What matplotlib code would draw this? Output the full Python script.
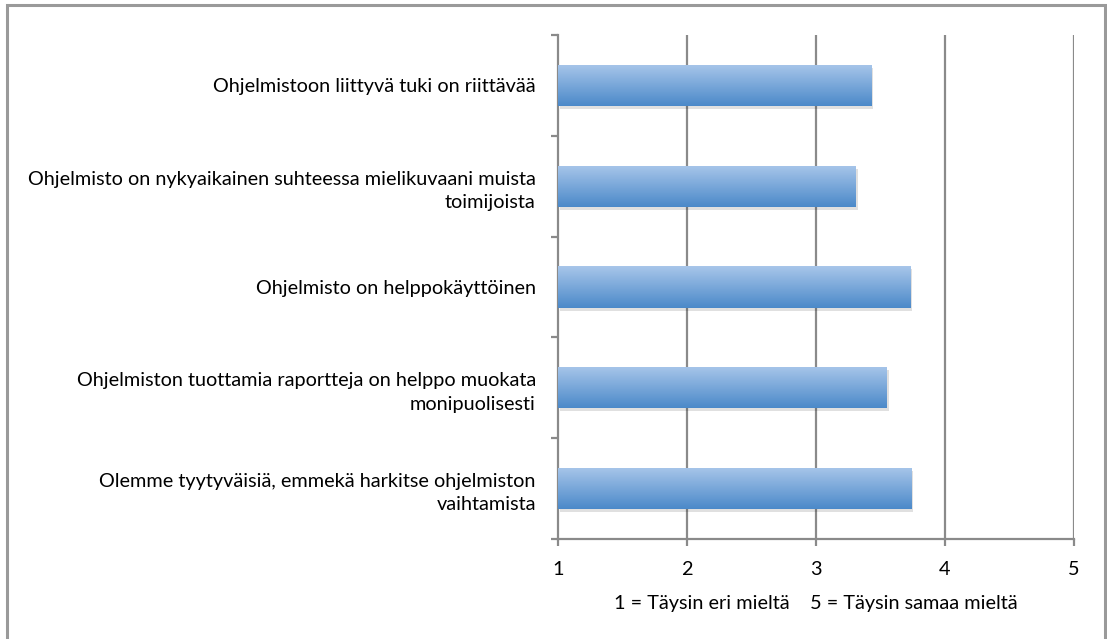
import numpy as np
import matplotlib.pyplot as plt
from matplotlib.patches import Rectangle
from matplotlib.colors import LinearSegmentedColormap
from matplotlib import transforms

plt.rcParams['font.family'] = ['Lato', 'DejaVu Sans']

# statements, top to bottom
labels = [
    "Ohjelmistoon liittyvä tuki on riittävää",
    "Ohjelmisto on nykyaikainen suhteessa mielikuvaani muista\ntoimijoista",
    "Ohjelmisto on helppokäyttöinen",
    "Ohjelmiston tuottamia raportteja on helppo muokata\nmonipuolisesti",
    "Olemme tyytyväisiä, emmekä harkitse ohjelmiston\nvaihtamista",
]
scores = [3.43, 3.31, 3.73, 3.55, 3.74]
x_ticks = [1, 2, 3, 4, 5]
x_label = "1 = Täysin eri mieltä    5 = Täysin samaa mieltä"

W, H = 1107, 639
fig = plt.figure(figsize=(W / 100, H / 100), dpi=100)
ax = fig.add_axes([558 / W, 1 - 539 / H, (1074 - 558) / W, (539 - 35) / H])

# outer frame
fig.patches.append(Rectangle((7 / W, -0.05), (1105 - 7) / W, 1 - 5 / H + 0.05,
                             transform=fig.transFigure, fill=False,
                             edgecolor='#9a9a9a', linewidth=2.2, zorder=0))

n = len(labels)
ypos = np.arange(n)[::-1]
bar_h = 0.41

# vertical grid
for xv in x_ticks[1:]:
    ax.axvline(xv, color='#8a8a8a', linewidth=1.6, zorder=1)

grad = np.linspace(0, 1, 256).reshape(-1, 1)
cmap = LinearSegmentedColormap.from_list('g', ['#a8c6ea', '#4b89c9'])

shadow_tr = transforms.offset_copy(ax.transData, fig=fig, x=2, y=-3, units='dots')
for y, v in zip(ypos, scores):
    sh = Rectangle((1, y - bar_h / 2), v - 1, bar_h, transform=shadow_tr,
                   facecolor='#000000', alpha=0.12, edgecolor='none', zorder=2)
    ax.add_patch(sh)
    r = Rectangle((1, y - bar_h / 2), v - 1, bar_h, facecolor='none',
                  edgecolor='none', zorder=3)
    ax.add_patch(r)
    im = ax.imshow(grad, cmap=cmap, aspect='auto', zorder=3,
                   extent=(1, v, y - bar_h / 2, y + bar_h / 2), origin='upper')
    im.set_clip_path(r)

ax.set_xlim(1, 5)
ax.set_ylim(-0.5, n - 0.5)

for s in ['top', 'right']:
    ax.spines[s].set_visible(False)
for s in ['left', 'bottom']:
    ax.spines[s].set_color('#8a8a8a')
    ax.spines[s].set_linewidth(1.6)

ax.set_xticks(x_ticks)
ax.set_xticklabels([str(t) for t in x_ticks], fontsize=14.3)
ax.tick_params(axis='x', length=5, width=1.6, color='#8a8a8a', pad=11)

ax.set_yticks(ypos)
ax.set_yticklabels(labels, fontsize=14.3, linespacing=1.45, multialignment='right')
ax.tick_params(axis='y', length=0, pad=16)
ax.set_yticks(np.arange(n + 1) - 0.5, minor=True)
ax.tick_params(axis='y', which='minor', length=5, width=1.6, color='#8a8a8a')

ax.set_xlabel(x_label, fontsize=14.3, labelpad=12)

fig.savefig('out.png', dpi=100)
